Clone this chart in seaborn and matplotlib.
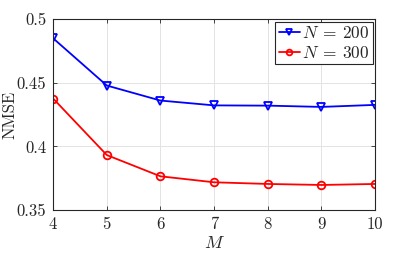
import matplotlib
matplotlib.use("Agg")
import matplotlib.pyplot as plt
import seaborn as sns

# values
m_values = [4, 5, 6, 7, 8, 9, 10]
nmse_n200 = [0.4849, 0.4478, 0.4360, 0.4322, 0.4320, 0.4310, 0.4326]
nmse_n300 = [0.4376, 0.3932, 0.3765, 0.3718, 0.3705, 0.3697, 0.3705]
series_labels = [r"$N\:=\:200$", r"$N\:=\:300$"]

sns.set_style("ticks")
plt.rcParams["font.family"] = "serif"
plt.rcParams["font.serif"] = ["cmr10", "DejaVu Serif"]
plt.rcParams["mathtext.fontset"] = "cm"
plt.rcParams["axes.formatter.use_mathtext"] = True

fig = plt.figure(figsize=(4.15, 2.54), dpi=100)
ax = fig.add_axes([0.128, 0.173, 0.776, 0.752])

for vals, lab, col, mk in [(nmse_n200, series_labels[0], "#0000ff", "v"),
                           (nmse_n300, series_labels[1], "#ff0000", "o")]:
    sns.lineplot(x=m_values, y=vals, label=lab, color=col, marker=mk,
                 markersize=5.5, markerfacecolor="none", markeredgecolor=col,
                 markeredgewidth=1.3, linewidth=1.3, linestyle="-", ax=ax)

ax.set_xlim(4, 10)
ax.set_ylim(0.35, 0.5)
ax.set_xticks(m_values)
ax.set_yticks([0.35, 0.4, 0.45, 0.5])
ax.set_xticklabels([str(m) for m in m_values])
ax.set_yticklabels(["0.35", "0.4", "0.45", "0.5"])
ax.grid(True, color="#e3e3e3", linewidth=0.7)
ax.set_axisbelow(True)
for s in ax.spines.values():
    s.set_visible(True)
    s.set_color("#262626")
    s.set_linewidth(0.8)
ax.tick_params(direction="in", top=True, right=True, labelsize=12,
               length=3, width=0.6, colors="#262626", pad=5)
for t in ax.get_xticklabels() + ax.get_yticklabels():
    t.set_color("#262626")

ax.set_xlabel(r"$M$", fontsize=13, color="#262626", labelpad=2)
ax.set_ylabel("NMSE", fontsize=12, color="#262626")
ax.yaxis.set_label_coords(-0.112, 0.5)

leg = ax.legend(loc="upper right", fontsize=12.5, frameon=True, fancybox=False,
                edgecolor="#262626", framealpha=1, borderpad=0.2,
                handlelength=1.2, handletextpad=0.1, labelspacing=0.2,
                borderaxespad=0.15, markerscale=0.75)
leg.get_frame().set_linewidth(0.8)

fig.savefig("out.png", dpi=100)
